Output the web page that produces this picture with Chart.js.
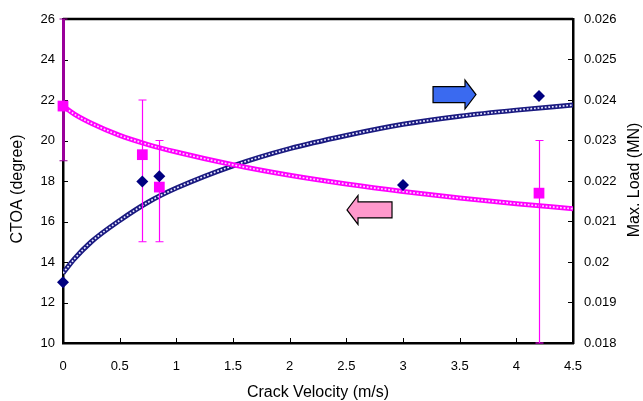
<!DOCTYPE html>
<html>
<head>
<meta charset="utf-8">
<script src="https://cdn.jsdelivr.net/npm/chart.js@4/dist/chart.umd.min.js"></script>
<style>
  html, body { margin: 0; padding: 0; background: #fff; }
  #wrap { width: 643px; height: 401px; }
</style>
</head>
<body>
<div id="wrap"><canvas id="chart" width="643" height="401"></canvas></div>
<script>
// measured points
const velocity = [0, 0.7, 0.85, 3.0, 4.2];
const maxLoad = [0.0195, 0.02199, 0.02212, 0.0219, 0.0241];

const ctoaVelocity = [0, 0.7, 0.85, 4.2];
const ctoa = [21.7, 19.3, 17.7, 17.4];
const ctoaLow = [19, 15, 15, 10];
const ctoaHigh = [26, 22, 20, 20];

// fitted trend lines
const fitX = [0, 0.1, 0.25, 0.5, 0.75, 1, 1.5, 2, 2.5, 3, 3.5, 4, 4.5];
const loadFit = [0.019725, 0.020075, 0.0205, 0.021025, 0.021475, 0.021825, 0.022375,
                 0.0228, 0.023125, 0.0234, 0.0236, 0.02375, 0.023875];
const ctoaFit = [21.7, 21.3, 20.85, 20.25, 19.8, 19.43, 18.8, 18.28, 17.85, 17.48, 17.16, 16.88, 16.63];

const xTicks = [0, 0.5, 1, 1.5, 2, 2.5, 3, 3.5, 4, 4.5];

function pts(xs, ys) {
  return xs.map((x, i) => ({ x: x, y: ys[i] }));
}

const FONT = "'Liberation Sans', Arial, sans-serif";

const decor = {
  id: 'decor',
  beforeDatasetsDraw(chart) {
    const c = chart.ctx, a = chart.chartArea;
    const sx = chart.scales.x, sy = chart.scales.y, sy1 = chart.scales.y1;
    c.save();
    c.strokeStyle = '#000';
    c.lineWidth = 1;
    // inward ticks
    xTicks.forEach(v => {
      const p = Math.round(sx.getPixelForValue(v)) + 0.5;
      c.beginPath(); c.moveTo(p, a.bottom); c.lineTo(p, a.bottom - 5); c.stroke();
    });
    sy.ticks.forEach(t => {
      const p = Math.round(sy.getPixelForValue(t.value)) + 0.5;
      c.beginPath(); c.moveTo(a.left, p); c.lineTo(a.left + 5, p); c.stroke();
    });
    sy1.ticks.forEach(t => {
      const p = Math.round(sy1.getPixelForValue(t.value)) + 0.5;
      c.beginPath(); c.moveTo(a.right, p); c.lineTo(a.right - 5, p); c.stroke();
    });
    // top frame
    c.lineWidth = 2.5;
    c.beginPath(); c.moveTo(a.left, a.top); c.lineTo(a.right, a.top); c.stroke();
    c.restore();
  },
  afterDatasetDraw(chart, args) {
    // error bars just under the CTOA squares
    if (args.index !== 2) return;
    const c = chart.ctx;
    const sx = chart.scales.x, sy = chart.scales.y;
    c.save();
    ctoaVelocity.forEach((v, i) => {
      const x = Math.round(sx.getPixelForValue(v)) + 0.5;
      const y0 = sy.getPixelForValue(ctoaLow[i]);
      const y1 = sy.getPixelForValue(ctoaHigh[i]);
      c.strokeStyle = i === 0 ? '#990099' : '#ff00ff';
      c.lineWidth = i === 0 ? 3 : 1.2;
      c.beginPath(); c.moveTo(x, y0); c.lineTo(x, y1); c.stroke();
      c.lineWidth = 1.2;
      c.beginPath();
      c.moveTo(x - 4, y0); c.lineTo(x + 4, y0);
      c.moveTo(x - 4, y1); c.lineTo(x + 4, y1);
      c.stroke();
    });
    c.restore();
  },
  afterDatasetsDraw(chart) {
    const c = chart.ctx;
    const sx = chart.scales.x, sy = chart.scales.y;
    function arrow(xTail, xBase, xTip, yv, fill) {
      const t = sx.getPixelForValue(xTail), b = sx.getPixelForValue(xBase), p = sx.getPixelForValue(xTip);
      const y = sy.getPixelForValue(yv);
      c.beginPath();
      c.moveTo(t, y - 8); c.lineTo(b, y - 8); c.lineTo(b, y - 14.5);
      c.lineTo(p, y); c.lineTo(b, y + 14.5); c.lineTo(b, y + 8);
      c.lineTo(t, y + 8); c.closePath();
      c.fillStyle = fill; c.fill();
      c.strokeStyle = '#000'; c.lineWidth = 1.2; c.stroke();
    }
    c.save();
    arrow(3.265, 3.547, 3.644, 22.27, '#3a6af0');
    arrow(2.903, 2.603, 2.506, 16.57, '#ff99cc');
    // y axis titles, both reading upward
    c.fillStyle = '#000';
    c.font = '16px ' + FONT;
    c.textAlign = 'center';
    c.textBaseline = 'middle';
    c.translate(18, 189);
    c.rotate(-Math.PI / 2);
    c.fillText('CTOA (degree)', 0, 0);
    c.restore();
    c.save();
    c.fillStyle = '#000';
    c.font = '16px ' + FONT;
    c.textAlign = 'center';
    c.textBaseline = 'middle';
    c.translate(635, 180);
    c.rotate(-Math.PI / 2);
    c.fillText('Max. Load (MN)', 0, 0);
    c.restore();
  }
};

const ctx = document.getElementById('chart').getContext('2d');
window.chart = new Chart(ctx, {
  type: 'scatter',
  data: {
    datasets: [
      {
        label: 'Max. Load',
        data: pts(velocity, maxLoad),
        yAxisID: 'y1',
        pointStyle: 'rectRot',
        pointRadius: 6,
        pointBackgroundColor: '#000080',
        pointBorderColor: '#000080',
        pointBorderWidth: 0,
        showLine: false,
        order: 0,
        clip: false
      },
      {
        label: 'CTOA',
        data: pts(ctoaVelocity, ctoa),
        yAxisID: 'y',
        pointStyle: 'rect',
        pointRadius: 7.6,
        pointBackgroundColor: '#ff00ff',
        pointBorderColor: '#ff00ff',
        pointBorderWidth: 0,
        showLine: false,
        order: 1,
        clip: false
      },
      {
        label: 'CTOA fit inner',
        data: pts(fitX, ctoaFit),
        yAxisID: 'y',
        showLine: true,
        pointRadius: 0,
        borderColor: '#ffd6ff',
        borderWidth: 1.7,
        borderDash: [1.8, 1.8],
        cubicInterpolationMode: 'monotone',
        fill: false,
        order: 2
      },
      {
        label: 'CTOA fit',
        data: pts(fitX, ctoaFit),
        yAxisID: 'y',
        showLine: true,
        pointRadius: 0,
        borderColor: '#ff00ff',
        borderWidth: 5,
        cubicInterpolationMode: 'monotone',
        fill: false,
        order: 3
      },
      {
        label: 'Load fit inner',
        data: pts(fitX, loadFit),
        yAxisID: 'y1',
        showLine: true,
        pointRadius: 0,
        borderColor: '#e6e6ff',
        borderWidth: 1.7,
        borderDash: [1.8, 1.8],
        cubicInterpolationMode: 'monotone',
        fill: false,
        order: 4
      },
      {
        label: 'Load fit',
        data: pts(fitX, loadFit),
        yAxisID: 'y1',
        showLine: true,
        pointRadius: 0,
        borderColor: '#1a1a80',
        borderWidth: 5,
        cubicInterpolationMode: 'monotone',
        fill: false,
        order: 5
      }
    ]
  },
  options: {
    responsive: false,
    animation: false,
    layout: { padding: { top: 19, left: 0, right: 0, bottom: 0 } },
    plugins: {
      legend: { display: false },
      tooltip: { enabled: false }
    },
    scales: {
      x: {
        type: 'linear',
        min: 0,
        max: 4.5,
        afterFit(s) { s.height = 58; },
        afterBuildTicks(s) { s.ticks = xTicks.map(v => ({ value: v })); },
        grid: { display: false, drawTicks: false },
        border: { display: true, color: '#000', width: 2.5 },
        ticks: {
          padding: 16,
          color: '#000',
          font: { family: FONT, size: 13 },
          maxRotation: 0,
          autoSkip: false,
          callback: v => String(v)
        },
        title: {
          display: true,
          text: 'Crack Velocity (m/s)',
          color: '#000',
          font: { family: FONT, size: 16, lineHeight: 1 },
          padding: { top: 0, bottom: 0 }
        }
      },
      y: {
        position: 'left',
        min: 10,
        max: 26,
        afterFit(s) { s.width = 63; },
        grid: { display: false, drawTicks: false },
        border: { display: true, color: '#000', width: 2.5 },
        ticks: {
          stepSize: 2,
          padding: 8,
          color: '#000',
          font: { family: FONT, size: 13 }
        }
      },
      y1: {
        position: 'right',
        min: 0.018,
        max: 0.026,
        afterFit(s) { s.width = 70; },
        grid: { display: false, drawTicks: false },
        border: { display: true, color: '#000', width: 2.5 },
        ticks: {
          stepSize: 0.001,
          padding: 11,
          color: '#000',
          font: { family: FONT, size: 13 },
          callback: v => String(parseFloat(v.toFixed(4)))
        }
      }
    }
  },
  plugins: [decor]
});
</script>
</body>
</html>
